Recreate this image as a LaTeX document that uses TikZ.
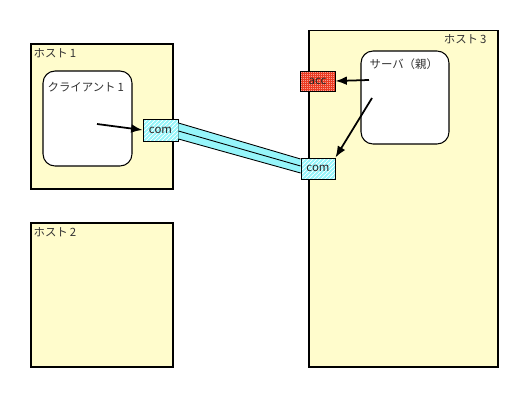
\documentclass[tikz,border=0pt]{standalone}
\usepackage{fontspec}
\setmainfont{Noto Sans CJK JP}
\usetikzlibrary{positioning,arrows.meta,calc,patterns.meta}

\definecolor{hostyellow}{RGB}{255,252,204}
\definecolor{pipecyan}{RGB}{150,245,250}
\definecolor{accred}{RGB}{235,60,35}

\tikzdeclarepattern{
  name=finehatch, type=uncolored,
  bounding box={(0,0) and (2pt,2pt)},
  tile size={(2pt,2pt)},
  code={\draw[line width=0.45pt] (-0.5pt,-0.5pt) -- (2.5pt,2.5pt);}
}
\tikzdeclarepattern{
  name=finedots, type=uncolored,
  bounding box={(0,0) and (1.3pt,1.3pt)},
  tile size={(1.3pt,1.3pt)},
  code={\fill (0.4pt,0.4pt) circle (0.33pt);}
}

\begin{document}
\begin{tikzpicture}[x=0.02cm,y=-0.02cm,
  host/.style={draw,line width=0.6pt,fill=hostyellow,inner sep=0pt},
  proc/.style={draw,line width=0.6pt,fill=white,rounded corners=0.24cm,inner sep=0pt},
  sock/.style={draw,line width=0.5pt,inner sep=0pt,font=\fontsize{6.5}{7}\selectfont,text=black!85},
  comsock/.style={sock,preaction={fill=pipecyan},preaction={pattern=finehatch,pattern color=white}},
  accsock/.style={sock,preaction={fill=accred},preaction={pattern=finedots,pattern color=white!70!accred}},
  lbl/.style={inner sep=1pt,font=\fontsize{6.5}{7}\selectfont,text=black!80},
  msg/.style={line width=1pt,-{Latex[length=6.5pt,width=5pt]}}]
\useasboundingbox (0,0) rectangle (530,399);
% ---- hosts ----
\node[host,minimum width=2.84cm,minimum height=2.9cm] (host1) at (102,116.5) {};
\node[host,minimum width=2.84cm,minimum height=2.88cm] (host2) at (102,295) {};
\node[host,minimum width=3.78cm,minimum height=6.74cm] (host3) at (403.5,198.5) {};
\node[lbl,anchor=north west] (host1lbl) at ($(host1.north west)+(1,3)$) {ホスト\,1};
\node[lbl,anchor=north west] (host2lbl) at ($(host2.north west)+(1,3)$) {ホスト\,2};
\node[lbl,anchor=north east] (host3lbl) at ($(host3.north east)+(-10,3)$) {ホスト\,3};
% ---- processes ----
\node[proc,minimum width=1.78cm,minimum height=1.9cm] (client) at (87.5,118.5) {};
\node[proc,minimum width=1.76cm,minimum height=1.86cm] (server) at (405,97.5) {};
\node[lbl,anchor=north west] (clientlbl) at ($(client.north west)+(3,10)$) {クライアント\,1};
\node[lbl,anchor=north west] (serverlbl) at ($(server.north west)+(7,6)$) {サーバ（親）};
% ---- pipe between the two sockets ----
\node[comsock,minimum width=0.7cm,minimum height=0.44cm] (com1) at (160.5,130) {com};
\node[comsock,minimum width=0.68cm,minimum height=0.42cm] (com2) at (318,168.5) {com};
\node[accsock,minimum width=0.7cm,minimum height=0.4cm] (acc) at (317.5,81) {acc};
\coordinate (pa) at ($(com1.east)+(0,-7)$);
\coordinate (pb) at ($(com1.east)+(0,1)$);
\coordinate (pc) at ($(com1.east)+(0,9)$);
\coordinate (qa) at ($(com2.west)+(0,-9.5)$);
\coordinate (qb) at ($(com2.west)+(0,-2.5)$);
\coordinate (qc) at ($(com2.west)+(0,4.5)$);
\fill[pipecyan] (pa) -- (qa) -- (qc) -- (pc) -- cycle;
\draw[line width=0.5pt] (pa) -- (qa);
\draw[line width=0.5pt] (pb) -- (qb);
\draw[line width=0.5pt] (pc) -- (qc);
% ---- messages ----
\coordinate (csend) at (97,124);
\coordinate (sacc) at (369,80);
\coordinate (scom) at (372,98);
\draw[msg] (csend) -- (com1.west);
\draw[msg] (sacc) -- (acc.east);
\draw[msg] (scom) -- (com2.north east);
\end{tikzpicture}
\end{document}
